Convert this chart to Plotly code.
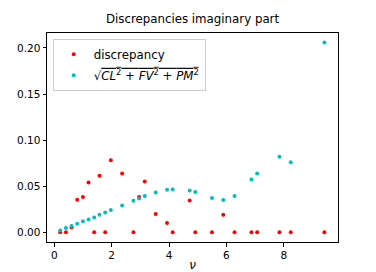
import plotly.graph_objects as go

nu = [0.209, 0.406, 0.603, 0.800, 0.997, 1.194, 1.391, 1.577, 1.774, 1.971,
      2.365, 2.759, 2.957, 3.154, 3.536, 3.930, 4.128, 4.720, 4.916, 5.496,
      5.890, 6.284, 6.875, 7.072, 7.849, 8.243, 9.415]

discrepancy = [0.0, 0.0, 0.0054, 0.0353, 0.0382, 0.0541, 0.0, 0.0613, 0.0, 0.0782,
               0.0638, 0.0, 0.0382, 0.0552, 0.0198, 0.0101, 0.0, 0.0346, 0.0, 0.0,
               0.0191, 0.0, 0.0, 0.0, 0.0, 0.0, 0.0]

norm_cl_fv_pm = [0.0021, 0.0047, 0.0068, 0.0093, 0.0119, 0.0140, 0.0162, 0.0191, 0.0216, 0.0241,
                 0.0292, 0.0342, 0.0368, 0.0393, 0.0433, 0.0461, 0.0465, 0.0454, 0.0436, 0.0371,
                 0.0350, 0.0393, 0.0573, 0.0638, 0.0819, 0.0761, 0.2060]

x_ticks = [0, 2, 4, 6, 8]
y_ticks = [0.00, 0.05, 0.10, 0.15, 0.20]
y_tick_labels = ["0.00", "0.05", "0.10", "0.15", "0.20"]

FONT = "DejaVu Sans"

fig = go.Figure()
fig.add_trace(go.Scatter(
    x=nu, y=discrepancy, mode="markers", name="discrepancy", legendgroup="a",
    marker=dict(color="#ff0000", size=4, line=dict(width=0)),
))
fig.add_trace(go.Scatter(
    x=nu, y=norm_cl_fv_pm, mode="markers", legendgroup="b",
    name="√<span style='text-decoration:overline'><i>CL</i><sup>2</sup> + <i>FV</i><sup>2</sup> + <i>PM</i><sup>2</sup></span>",
    marker=dict(color="#00bfbf", size=4, line=dict(width=0)),
))

axis_common = dict(
    showline=True, linecolor="black", linewidth=1, mirror=True,
    ticks="outside", ticklen=3.5, tickwidth=1, tickcolor="black",
    showgrid=False, zeroline=False, automargin=False,
    tickfont=dict(family=FONT, size=10.5, color="black"),
)

fig.update_layout(
    width=376, height=272,
    margin=dict(l=47, r=38, t=33, b=30),
    paper_bgcolor="white", plot_bgcolor="white",
    font=dict(family=FONT, color="black"),
    title=dict(text="Discrepancies imaginary part", x=0.5, xref="paper",
               y=1 - 19 / 272, yref="container", yanchor="middle", xanchor="center",
               automargin=False,
               font=dict(family=FONT, size=11.8, color="black")),
    xaxis=dict(range=[-0.254, 9.89], tickvals=x_ticks,
               title=dict(text="<i>ν</i>", standoff=2,
                          font=dict(family=FONT, size=12, color="black")),
               **axis_common),
    yaxis=dict(range=[-0.0105, 0.2162], tickvals=y_ticks, ticktext=y_tick_labels,
               **axis_common),
    legend=dict(x=0.0196, y=0.973, xanchor="left", yanchor="top",
                bgcolor="rgba(255,255,255,0.8)", bordercolor="#cccccc", borderwidth=1,
                font=dict(family=FONT, size=11.8, color="black"),
                itemsizing="trace", tracegroupgap=2),
    showlegend=True,
)

fig.write_html("out.html", config={"displayModeBar": False},
               post_script="document.body.style.margin='0';document.body.style.overflow='hidden';")
